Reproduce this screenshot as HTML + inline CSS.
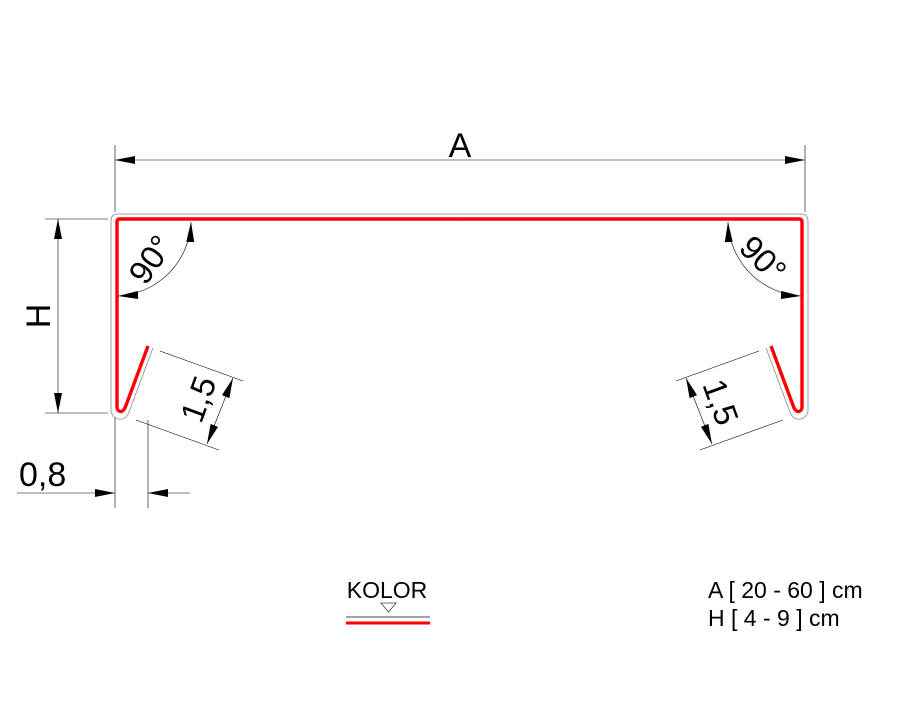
<!DOCTYPE html>
<html><head><style>body{margin:0;background:#fff}svg{display:block}</style></head>
<body>
<svg width="900" height="720" viewBox="0 0 900 720" xmlns="http://www.w3.org/2000/svg" font-family="Liberation Sans, sans-serif">
<defs>
<marker id="ar" viewBox="0 0 10 4" refX="10" refY="2" markerWidth="22" markerHeight="8" markerUnits="userSpaceOnUse" orient="auto-start-reverse"><path d="M0,0 L10,2 L0,4z" fill="#000"/></marker>
<g id="half">
<path d="M111,412 L111,221 Q111,214 118,214 L459.5,214" fill="none" stroke="#888" stroke-width="0.8"/>
<path d="M111,412 Q114,420 122,419 Q127,418 129,412 L153,348" fill="none" stroke="#888" stroke-width="0.8"/>
<path d="M148,346 L125,408 Q122,413 119,411 Q117,410 117,406 L117,222 Q117,219 120,219 L460,219" fill="none" stroke="#f00" stroke-width="3.4"/>
<g stroke="#000" stroke-width="0.6" fill="none">
<line x1="160" y1="351" x2="243" y2="381"/>
<line x1="136" y1="420" x2="219" y2="450"/>
<line x1="233" y1="378" x2="207" y2="444" marker-start="url(#ar)" marker-end="url(#ar)"/>
</g>
</g>
</defs>
<use href="#half"/>
<use href="#half" transform="translate(919,0) scale(-1,1)"/>
<g stroke="#000" stroke-width="0.6" fill="none">
<line x1="115" y1="145" x2="115" y2="212"/>
<line x1="805" y1="145" x2="805" y2="212"/>
<line x1="115" y1="160" x2="805" y2="160" marker-start="url(#ar)" marker-end="url(#ar)"/>
<line x1="45" y1="219" x2="108" y2="219"/>
<line x1="45" y1="413" x2="108" y2="413"/>
<line x1="58" y1="219" x2="58" y2="413" marker-start="url(#ar)" marker-end="url(#ar)"/>
<line x1="115" y1="418" x2="115" y2="508"/>
<line x1="148" y1="420" x2="148" y2="508"/>
<line x1="17" y1="493" x2="115" y2="493" marker-end="url(#ar)"/>
<line x1="190" y1="493" x2="148" y2="493" marker-end="url(#ar)"/>
<path d="M118,296 A77,77 0 0 0 191,222" marker-start="url(#ar)" marker-end="url(#ar)"/>
<path d="M801,296 A77,77 0 0 1 728,222" marker-start="url(#ar)" marker-end="url(#ar)"/>
</g>
<g fill="#000">
<text x="460" y="157" font-size="34" text-anchor="middle">A</text>
<text x="0" y="0" font-size="34" text-anchor="middle" transform="translate(50,316) rotate(-90)">H</text>
<text x="19" y="486" font-size="34">0,8</text>
<text x="0" y="0" font-size="33" text-anchor="middle" transform="translate(160,266) rotate(-55)">90°</text>
<text x="0" y="0" font-size="33" text-anchor="middle" transform="translate(755,267) rotate(45)">90°</text>
<text x="0" y="0" font-size="33" text-anchor="middle" transform="translate(209,403) rotate(-70)">1,5</text>
<text x="0" y="0" font-size="33" text-anchor="middle" transform="translate(710,406) rotate(70)">1,5</text>
<text x="387" y="598" font-size="23" text-anchor="middle">KOLOR</text>
<text x="708" y="598" font-size="23">A [ 20 - 60 ] cm</text>
<text x="708" y="626" font-size="23">H [ 4 - 9 ] cm</text>
</g>
<path d="M381,603 L396,603 L388.5,612z" fill="none" stroke="#444" stroke-width="0.8"/>
<line x1="346" y1="617" x2="430" y2="617" stroke="#000" stroke-width="0.8"/>
<line x1="346" y1="623" x2="430" y2="623" stroke="#f00" stroke-width="3"/>
</svg>
</body></html>
